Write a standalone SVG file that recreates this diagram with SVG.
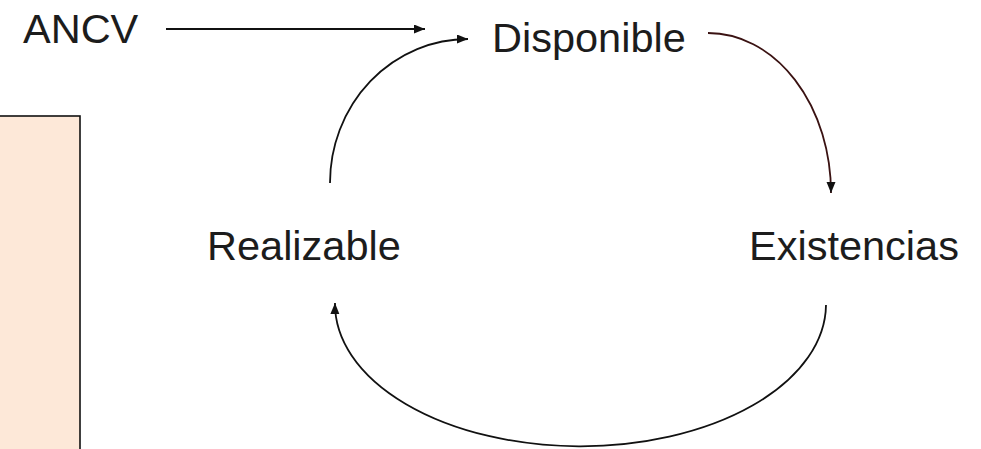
<svg xmlns="http://www.w3.org/2000/svg" width="981" height="449" viewBox="0 0 981 449">
<style>
.lbl{font-family:"Liberation Sans",Arial,sans-serif;font-size:41.5px;fill:#1c1c1c}
.con{fill:none;stroke:#111;stroke-width:1.8}
</style>
<defs>
<marker id="ah" markerUnits="userSpaceOnUse" markerWidth="12" markerHeight="10" refX="11" refY="4.5" orient="auto">
<path d="M0,0 L11,4.5 L0,9 Z" fill="#111"/>
</marker>
</defs>
<rect x="-2" y="116" width="82" height="340" fill="#fde8d8" stroke="#111" stroke-width="1.6"/>
<g id="ancv"><text class="lbl" x="23" y="43">ANCV</text></g>
<g id="disponible"><text class="lbl" x="492" y="52">Disponible</text></g>
<g id="realizable"><text class="lbl" x="207" y="260">Realizable</text></g>
<g id="existencias"><text class="lbl" x="749" y="260">Existencias</text></g>
<g id="connectors">
<path class="con" d="M166,29 L425,29" marker-end="url(#ah)"/>
<path class="con" d="M330,183 A138 144 0 0 1 468,39" marker-end="url(#ah)"/>
<path class="con" d="M708,33 A123 160 0 0 1 831,193" style="stroke:#3a1212" marker-end="url(#ah)"/>
<path class="con" d="M826,305 A245 142 0 0 1 335,303" marker-end="url(#ah)"/>
</g>
</svg>
